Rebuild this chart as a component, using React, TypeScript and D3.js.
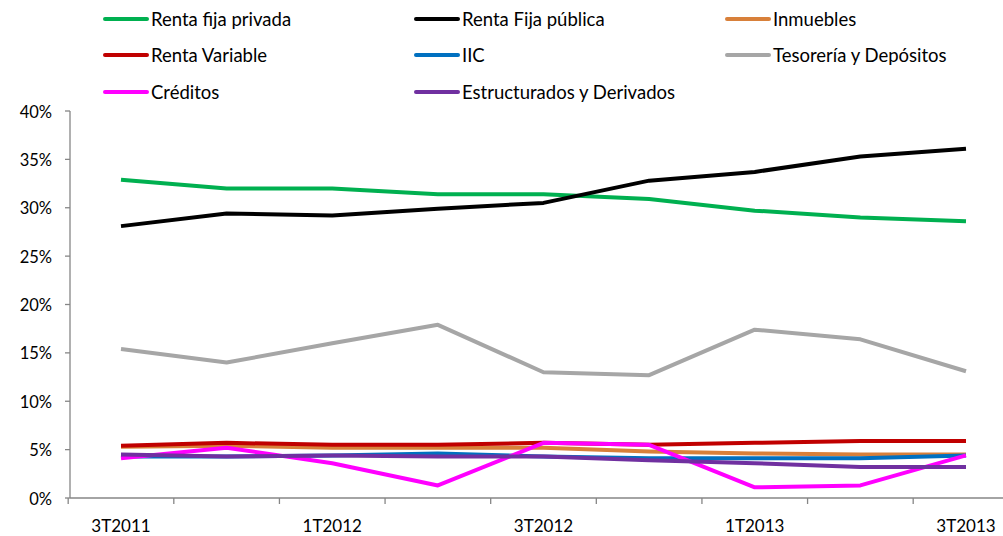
import { useEffect, useRef } from "react";
import * as d3 from "d3";

const QUARTERS = ["3T2011", "4T2011", "1T2012", "2T2012", "3T2012", "4T2012", "1T2013", "2T2013", "3T2013"];
const TICK_LABELS = ["3T2011", "1T2012", "3T2012", "1T2013", "3T2013"];
const Y_TICKS = [0, 5, 10, 15, 20, 25, 30, 35, 40];

const rentaFijaPrivada = [32.9, 32.0, 32.0, 31.4, 31.4, 30.9, 29.7, 29.0, 28.6];
const rentaFijaPublica = [28.1, 29.4, 29.2, 29.9, 30.5, 32.8, 33.7, 35.3, 36.1];
const inmuebles = [5.3, 5.4, 5.2, 5.2, 5.2, 4.8, 4.6, 4.5, 4.5];
const rentaVariable = [5.4, 5.7, 5.5, 5.5, 5.7, 5.5, 5.7, 5.9, 5.9];
const iic = [4.3, 4.3, 4.4, 4.6, 4.3, 4.1, 4.1, 4.1, 4.4];
const tesoreria = [15.4, 14.0, 16.0, 17.9, 13.0, 12.7, 17.4, 16.4, 13.1];
const creditos = [4.1, 5.2, 3.6, 1.3, 5.7, 5.5, 1.1, 1.3, 4.4];
const estructurados = [4.5, 4.3, 4.4, 4.3, 4.3, 3.9, 3.6, 3.2, 3.2];

const SERIES = [
  { name: "Renta fija privada", color: "#00B050", values: rentaFijaPrivada },
  { name: "Renta Fija pública", color: "#000000", values: rentaFijaPublica },
  { name: "Inmuebles", color: "#D8803A", values: inmuebles },
  { name: "Renta Variable", color: "#C00000", values: rentaVariable },
  { name: "IIC", color: "#0070C0", values: iic },
  { name: "Tesorería y Depósitos", color: "#A6A6A6", values: tesoreria },
  { name: "Créditos", color: "#FF00FF", values: creditos },
  { name: "Estructurados y Derivados", color: "#7030A0", values: estructurados },
];

export default function App() {
  const svgRef = useRef<SVGSVGElement>(null);

  useEffect(() => {
    if (!svgRef.current) return;
    const width = 1003;
    const height = 536;
    const left = 70;
    const top = 111;
    const bottom = 498;

    const svg = d3.select(svgRef.current);
    svg.selectAll("*").remove();

    const x = d3.scalePoint<string>().domain(QUARTERS).range([121, 966]);
    const step = x.step();
    const y = d3.scaleLinear().domain([0, 40]).range([bottom, top]);
    const font = "Lato, 'Open Sans', sans-serif";
    const axisColor = "#868686";

    // y axis
    svg.append("line")
      .attr("x1", left).attr("x2", left).attr("y1", top).attr("y2", bottom)
      .attr("stroke", axisColor).attr("stroke-width", 1.3);
    Y_TICKS.forEach((t) => {
      svg.append("line")
        .attr("x1", left - 5).attr("x2", left).attr("y1", y(t)).attr("y2", y(t))
        .attr("stroke", axisColor).attr("stroke-width", 1.3);
      svg.append("text")
        .attr("x", 52).attr("y", y(t) + 6.5)
        .attr("text-anchor", "end")
        .attr("font-family", font).attr("font-size", 16.5).attr("fill", "#000")
        .text(`${t}%`);
    });

    // x axis
    svg.append("line")
      .attr("x1", left).attr("x2", width).attr("y1", bottom).attr("y2", bottom)
      .attr("stroke", axisColor).attr("stroke-width", 1.3);
    for (let i = 0; i <= QUARTERS.length; i++) {
      const tx = (x(QUARTERS[0]) as number) - step / 2 + i * step;
      svg.append("line")
        .attr("x1", tx).attr("x2", tx).attr("y1", bottom).attr("y2", bottom + 6)
        .attr("stroke", axisColor).attr("stroke-width", 1.3);
    }
    TICK_LABELS.forEach((q) => {
      svg.append("text")
        .attr("x", x(q) as number).attr("y", 532)
        .attr("text-anchor", "middle")
        .attr("font-family", font).attr("font-size", 17).attr("fill", "#000")
        .text(q);
    });

    // series
    const line = d3.line<number>()
      .x((_, i) => x(QUARTERS[i]) as number)
      .y((d) => y(d));
    SERIES.forEach((s) => {
      svg.append("path")
        .attr("d", line(s.values))
        .attr("fill", "none")
        .attr("stroke", s.color)
        .attr("stroke-width", 4)
        .attr("stroke-linejoin", "round");
    });

    // legend
    const colX = [105, 416, 727];
    const rowY = [19, 55, 92];
    SERIES.forEach((s, i) => {
      const cx = colX[i % 3];
      const cy = rowY[Math.floor(i / 3)];
      svg.append("line")
        .attr("x1", cx).attr("x2", cx + 42).attr("y1", cy).attr("y2", cy)
        .attr("stroke", s.color).attr("stroke-width", 4).attr("stroke-linecap", "round");
      svg.append("text")
        .attr("x", cx + 46).attr("y", cy + 6.5)
        .attr("font-family", font).attr("font-size", 18.5).attr("fill", "#000")
        .text(s.name);
    });

    svg.attr("width", width).attr("height", height);
  }, []);

  return (
    <div style={{ position: "fixed", left: 0, top: 0, width: 1003, height: 536, background: "#fff", overflow: "hidden" }}>
      <svg ref={svgRef} style={{ display: "block" }} />
    </div>
  );
}
